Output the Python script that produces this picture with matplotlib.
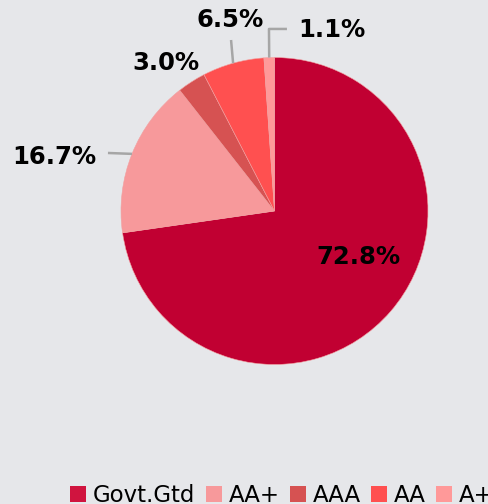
import numpy as np
import matplotlib
matplotlib.use("Agg")
import matplotlib.pyplot as plt
from matplotlib.patches import Patch

labels = ["Govt.Gtd", "AA+", "AAA", "AA", "A+"]
values = [72.8, 16.7, 3.0, 6.5, 1.1]
colors = ["#C10032", "#F7999B", "#D65252", "#FF5050", "#FF9999"]
legend_colors = ["#D0143F", "#F7999B", "#D65252", "#FF5050", "#FF9999"]

# label text positions (axes data units, pie radius = 1)
label_pos = [(0.544, -0.30), (-1.437, 0.352), (-0.707, 0.964), (-0.29, 1.244), (0.375, 1.179)]
# leader line bends (None = no line)
leaders = [None, [(-1.085, 0.378)], None, [(-0.283, 1.114)], [(-0.036, 1.186), (0.081, 1.186)]]

W, H = 488, 504
bg = "#E6E7EA"
fig = plt.figure(figsize=(W / 100, H / 100), dpi=100, facecolor=bg)

cx, cy, r = 274.5, 211, 153.5
ax = fig.add_axes([(cx - r) / W, 1 - (cy + r) / H, 2 * r / W, 2 * r / H])
ax.set_facecolor(bg)

wedges, _ = ax.pie(values, colors=colors, startangle=90, counterclock=False,
                   radius=1, wedgeprops=dict(edgecolor="#F2A0A0", linewidth=0.4))
ax.set_xlim(-1, 1)
ax.set_ylim(-1, 1)
ax.set_aspect("equal")
ax.axis("off")

for w, v, pos, lead in zip(wedges, values, label_pos, leaders):
    ax.text(pos[0], pos[1], f"{v:.1f}%", ha="center", va="center",
            fontsize=17.5, fontweight="bold", color="black")
    if lead:
        mid = np.deg2rad((w.theta1 + w.theta2) / 2)
        pts = [(np.cos(mid), np.sin(mid))] + lead
        xs, ys = zip(*pts)
        ax.plot(xs, ys, color="#A6A6A6", lw=1.8, clip_on=False, solid_capstyle="butt")

handles = [Patch(facecolor=c, edgecolor="none") for c in legend_colors]
fig.legend(handles, labels, ncol=5, loc="upper left",
           bbox_to_anchor=(70 / W, 1 - 484 / H), frameon=False,
           fontsize=16.5, handlelength=0.70, handleheight=0.70,
           handletextpad=0.3, columnspacing=0.45, borderpad=0, borderaxespad=0)

fig.savefig("out.png", dpi=100, facecolor=bg)
